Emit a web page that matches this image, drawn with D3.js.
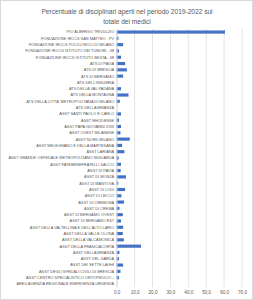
<!DOCTYPE html>
<html><head><meta charset="utf-8">
<script src="https://cdn.jsdelivr.net/npm/d3@7"></script>
<style>body{margin:0;background:#fff}svg{display:block}</style>
</head><body>
<script>
const categories = [
"PIO ALBERGO TRIVULZIO",
"FONDAZIONE IRCCS SAN MATTEO - PV",
"FONDAZIONE IRCCS POLICLINICO DI MILANO",
"FONDAZIONE IRCCS ISTITUTO DEI TUMORI - MI",
"FONDAZIONE IRCCS ISTITUTO BESTA - MI",
"ATS DI PAVIA",
"ATS DI BRESCIA",
"ATS DI BERGAMO",
"ATS DELL'INSUBRIA",
"ATS DELLA VAL PADANA",
"ATS DELLA MONTAGNA",
"ATS DELLA CITTA' METROPOLITANA DI MILANO",
"ATS DELLA BRIANZA",
"ASST SANTI PAOLO E CARLO",
"ASST RHODENSE",
"ASST PAPA GIOVANNI XXIII",
"ASST OVEST MILANESE",
"ASST NORD MILANO",
"ASST MELEGNANO E DELLA MARTESANA",
"ASST LARIANA",
"ASST GRANDE OSPEDALE METROPOLITANO NIGUARDA",
"ASST FATEBENEFRATELLI SACCO",
"ASST DI PAVIA",
"ASST DI MONZA",
"ASST DI MANTOVA",
"ASST DI LODI",
"ASST DI LECCO",
"ASST DI CREMONA",
"ASST DI CREMA",
"ASST DI BERGAMO OVEST",
"ASST DI BERGAMO EST",
"ASST DELLA VALTELLINA E DELL'ALTO LARIO",
"ASST DELLA VALLE OLONA",
"ASST DELLA VALCAMONICA",
"ASST DELLA FRANCIACORTA",
"ASST DELLA BRIANZA",
"ASST DEL GARDA",
"ASST DEI SETTE LAGHI",
"ASST DEGLI SPEDALI CIVILI DI BRESCIA",
"ASST CENTRO SPECIALISTICO  ORTOPEDICO...",
"AREU AGENZIA REGIONALE EMERGENZA URGENZA"
];
const values = [
60.5, 1.0, 3.6, 1.3, 2.4, 4.7, 5.7, 3.6, 0, 2.4, 6.6, 1.7, 0,
2.4, 1.3, 2.4, 2.1, 7.3, 3.0, 4.3, 1.1, 2.4, 2.2,
5.2, 0.9, 4.7, 2.6, 4.1, 1.5, 3.4, 2.4, 3.6, 3.4, 4.0,
13.6, 1.5, 1.3, 3.6, 2.1, 1.3, 0
];
const tickValues = [0,10,20,30,40,50,60,70];
const titleLines = ["Percentuale di disciplinari aperti nel periodo 2019-2022 sul","totale dei medici"];

const W=253,H=300;
const svg=d3.select("body").append("svg").attr("width",W).attr("height",H);
svg.append("rect").attr("x",0.5).attr("y",0.5).attr("width",W-1).attr("height",H-1)
  .attr("fill","#fff").attr("stroke","#d9d9d9");

const x=d3.scaleLinear().domain([0,70]).range([116.7,242]);
const y=d3.scaleBand().domain(categories).range([28.9,287.1]).paddingInner(0.5).paddingOuter(0.25);

const font="'Liberation Sans Narrow', 'Liberation Sans', Arial, sans-serif";
const tfont="'Liberation Sans', Arial, sans-serif";
const titles=svg.append("g").selectAll("text").data(titleLines).join("text")
  .attr("x",127).attr("y",(d,i)=>14+i*9.5).attr("text-anchor","middle")
  .attr("font-family",tfont).attr("font-size",6.6).attr("fill","#595959").text(d=>d);
// fit first title line to reference width (~181px)
const tw=titles.nodes()[0].getComputedTextLength();
if(tw>183) titles.attr("font-size",6.6*181/tw);

const grid=svg.append("g");
grid.selectAll("line").data(tickValues).join("line")
  .attr("x1",d=>x(d)).attr("x2",d=>x(d)).attr("y1",28.9).attr("y2",287.1)
  .attr("stroke","#d9d9d9").attr("stroke-width",0.75);

svg.append("g").selectAll("rect").data(values).join("rect")
  .attr("x",x(0)).attr("y",(d,i)=>y(categories[i]))
  .attr("width",d=>x(d)-x(0)).attr("height",y.bandwidth())
  .attr("fill","#4472c4");

const fmt=d=>d3.format(".1f")(d).replace(".",",");
const xa=svg.append("g").attr("transform","translate(0,287.1)")
  .call(d3.axisBottom(x).tickValues(tickValues).tickFormat(fmt).tickSize(0).tickPadding(4));
xa.select(".domain").remove();
xa.selectAll("text").attr("font-family",tfont).attr("font-size",4.6).attr("fill","#595959");

const ya=svg.append("g").attr("transform","translate(116.7,0)")
  .call(d3.axisLeft(y).tickSize(0).tickPadding(2.5));
ya.select(".domain").attr("stroke","#d9d9d9").attr("stroke-width",0.75);
const yt=ya.selectAll("text").attr("font-family",font).attr("font-size",4.4).attr("fill","#595959");
// horizontally compress labels so the longest spans ~106px like the reference
let maxw=0; yt.each(function(){maxw=Math.max(maxw,this.getComputedTextLength());});
if(maxw>106){ const s=106/maxw; yt.attr("transform",`scale(${s},1)`).attr("x",-2.5/s); }
</script>
</body></html>
